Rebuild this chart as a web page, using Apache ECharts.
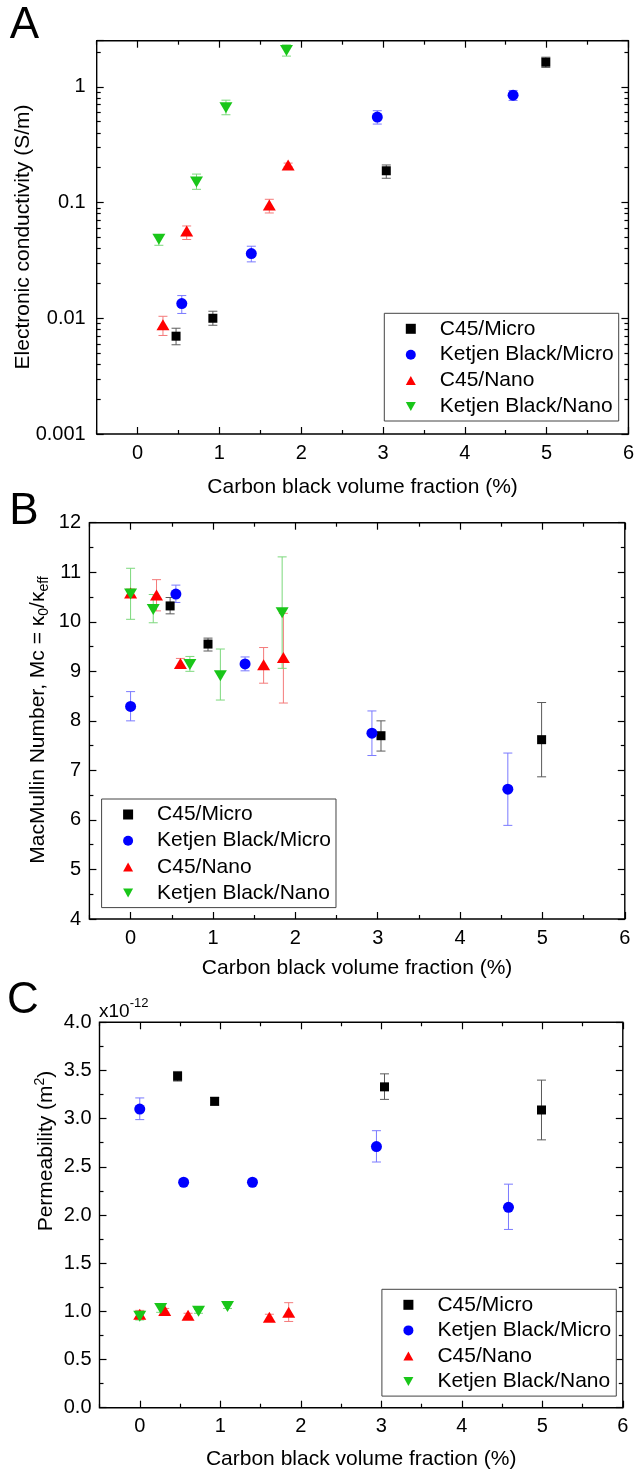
<!DOCTYPE html>
<html>
<head>
<meta charset="utf-8">
<script src="https://cdn.jsdelivr.net/npm/echarts@6/dist/echarts.min.js"></script>
<style>
  html, body { margin: 0; padding: 0; background: #fff; }
  #chart { width: 637px; height: 1473px; }
</style>
</head>
<body>
<div id="chart"></div>
<script>
const seriesNames = ["C45/Micro", "Ketjen Black/Micro", "C45/Nano", "Ketjen Black/Nano"];
const xTicks = [0, 1, 2, 3, 4, 5, 6];
const xMinorTicks = [-0.5, 0.5, 1.5, 2.5, 3.5, 4.5, 5.5];
const xTitle = "Carbon black volume fraction (%)";

// each point: [volume fraction %, value, error low, error high]
// A: electronic conductivity (S/m)
const condC45Micro = [[0.47, 0.0070, 0.0059, 0.0082], [0.92, 0.0100, 0.0087, 0.0115], [3.04, 0.188, 0.162, 0.211], [4.99, 1.63, 1.47, 1.80]];
const condKBMicro = [[0.54, 0.0134, 0.0110, 0.0157], [1.39, 0.0362, 0.0307, 0.0419], [2.93, 0.547, 0.476, 0.621], [4.59, 0.846, 0.762, 0.929]];
const condC45Nano = [[0.31, 0.0088, 0.0071, 0.0104], [0.60, 0.0568, 0.0479, 0.0627], [1.61, 0.0951, 0.0812, 0.1066], [1.84, 0.211, 0.203, 0.219]];
const condKBNano = [[0.26, 0.0481, 0.0427, 0.0520], [0.72, 0.150, 0.130, 0.176], [1.08, 0.659, 0.573, 0.766], [1.82, 2.06, 1.84, 2.30]];

// B: MacMullin number
const mcC45Micro = [[0.48, 10.32, 10.16, 10.49], [0.94, 9.55, 9.41, 9.67], [3.04, 7.70, 7.39, 8.00], [4.99, 7.62, 6.87, 8.37]];
const mcKBMicro = [[0, 8.29, 8.00, 8.59], [0.55, 10.56, 10.39, 10.74], [1.39, 9.15, 9.01, 9.29], [2.93, 7.75, 7.30, 8.20], [4.58, 6.62, 5.89, 7.35]];
const mcC45Nano = [[0, 10.58, 10.52, 10.66], [0.315, 10.54, 10.22, 10.85], [0.605, 9.16, 9.08, 9.26], [1.615, 9.13, 8.76, 9.48], [1.855, 9.28, 8.36, 10.17]];
const mcKBNano = [[0, 10.56, 10.05, 11.08], [0.275, 10.25, 9.98, 10.55], [0.72, 9.14, 9.00, 9.30], [1.09, 8.91, 8.42, 9.45], [1.84, 10.18, 9.06, 11.31]];

// C: permeability (x1e-12 m2)
const permC45Micro = [[0.47, 3.44, 3.39, 3.49], [0.93, 3.18, 3.14, 3.22], [3.04, 3.33, 3.20, 3.465], [4.99, 3.09, 2.78, 3.40]];
const permKBMicro = [[0, 3.10, 2.99, 3.215], [0.545, 2.34, 2.32, 2.36], [1.40, 2.34, 2.32, 2.36], [2.94, 2.71, 2.55, 2.875], [4.58, 2.08, 1.85, 2.32]];
const permC45Nano = [[0, 0.97, 0.93, 1.01], [0.31, 1.01, 0.99, 1.03], [0.60, 0.96, 0.94, 0.98], [1.61, 0.94, 0.90, 0.97], [1.85, 0.99, 0.895, 1.09]];
const permKBNano = [[0, 0.95, 0.91, 0.98], [0.26, 1.03, 0.99, 1.07], [0.73, 1.00, 0.98, 1.02], [1.09, 1.05, 1.03, 1.07]];

const FONT = '"Liberation Sans", Arial, sans-serif';
const markers = [
  { symbol: "rect", symbolSize: 9, color: "#000000", err: "#5a5a5a", rotate: 0, icon: "rect" },
  { symbol: "circle", symbolSize: 11, color: "#0000ff", err: "#7a7aff", rotate: 0, icon: "circle" },
  { symbol: "triangle", symbolSize: [13, 11], color: "#ff0000", err: "#f47a7a", rotate: 0, icon: "path://M5,0L10,9L0,9Z" },
  { symbol: "triangle", symbolSize: [13, 11], color: "#19c619", err: "#7cd87c", rotate: 180, icon: "path://M0,0L10,0L5,9Z" },
];

const chart = echarts.init(document.getElementById("chart"));

const tickLine = { color: "#000", width: 1.2 };
const labelStyle = { fontSize: 20, color: "#000", fontFamily: FONT };

function xAxisSet(g, nameGap) {
  const base = {
    gridIndex: g, type: "value", min: -0.5, max: 6,
    splitLine: { show: false }, axisLine: { show: false, onZero: false },
  };
  return [
    {
      ...base, position: "bottom",
      axisTick: { inside: true, length: 7, customValues: xTicks, lineStyle: tickLine },
      axisLabel: { ...labelStyle, customValues: xTicks, margin: 9 },
      name: xTitle, nameLocation: "middle", nameGap,
      nameTextStyle: { fontSize: 21, color: "#000", fontFamily: FONT },
    },
    { ...base, position: "bottom", axisTick: { inside: true, length: 4, customValues: xMinorTicks, lineStyle: tickLine }, axisLabel: { show: false } },
    { ...base, position: "top", axisTick: { inside: true, length: 7, customValues: xTicks, lineStyle: tickLine }, axisLabel: { show: false } },
    { ...base, position: "top", axisTick: { inside: true, length: 4, customValues: xMinorTicks, lineStyle: tickLine }, axisLabel: { show: false } },
  ];
}

function linearY(g, min, max, interval, margin, formatter) {
  const base = {
    gridIndex: g, type: "value", min, max, interval,
    splitLine: { show: false }, axisLine: { show: false, onZero: false },
    axisTick: { inside: true, length: 7, lineStyle: tickLine },
    minorTick: { show: true, splitNumber: 2, length: 4, lineStyle: tickLine },
  };
  return [
    { ...base, position: "left", axisLabel: { ...labelStyle, margin, formatter } },
    { ...base, position: "right", axisLabel: { show: false } },
  ];
}

// log axis for panel A, minor ticks drawn on a helper axis in log10 space
const logMin = 0.001, logMax = 2.5;
const minorLogTicks = [];
for (let d = -3; d <= 0; d++) {
  for (let k = 2; k <= 9; k++) {
    const v = d + Math.log10(k);
    if (v <= Math.log10(logMax)) minorLogTicks.push(v);
  }
}
function logY() {
  const base = {
    gridIndex: 0, type: "log", logBase: 10, min: logMin, max: logMax,
    splitLine: { show: false }, axisLine: { show: false, onZero: false },
    axisTick: { inside: true, length: 7, lineStyle: tickLine },
  };
  const minor = {
    gridIndex: 0, type: "value", min: Math.log10(logMin), max: Math.log10(logMax),
    splitLine: { show: false }, axisLine: { show: false, onZero: false },
    axisTick: { inside: true, length: 4, customValues: minorLogTicks, lineStyle: tickLine },
    axisLabel: { show: false },
  };
  return [
    {
      ...base, position: "left",
      axisLabel: {
        ...labelStyle, margin: 11,
        formatter: (v) => {
          const e = Math.log10(v);
          return Math.abs(e - Math.round(e)) < 1e-6 ? String(+v.toPrecision(1)) : "";
        },
      },
    },
    { ...base, position: "right", axisLabel: { show: false } },
    { ...minor, position: "left" },
    { ...minor, position: "right" },
  ];
}

function errorBars(data, color, xi, yi) {
  return {
    type: "custom", xAxisIndex: xi, yAxisIndex: yi, data, z: 2, silent: true,
    encode: { x: 0, y: [1, 2, 3] },
    renderItem: (params, api) => {
      const top = api.coord([api.value(0), api.value(3)]);
      const bot = api.coord([api.value(0), api.value(2)]);
      const w = 4.5;
      const style = { stroke: color, lineWidth: 1 };
      return {
        type: "group",
        children: [
          { type: "line", shape: { x1: top[0], y1: top[1], x2: bot[0], y2: bot[1] }, style },
          { type: "line", shape: { x1: top[0] - w, y1: top[1], x2: top[0] + w, y2: top[1] }, style },
          { type: "line", shape: { x1: bot[0] - w, y1: bot[1], x2: bot[0] + w, y2: bot[1] }, style },
        ],
      };
    },
  };
}

function panelSeries(groups, xi, yi) {
  const out = [];
  groups.forEach((data, i) => {
    const m = markers[i];
    out.push(errorBars(data, m.err, xi, yi));
    out.push({
      name: seriesNames[i], type: "scatter", xAxisIndex: xi, yAxisIndex: yi, data,
      encode: { x: 0, y: 1 }, symbol: m.symbol, symbolSize: m.symbolSize, symbolRotate: m.rotate,
      itemStyle: { color: m.color, opacity: 1 }, z: 3 + i,
    });
  });
  return out;
}

function legendAt(left, top, gap) {
  return {
    data: seriesNames.map((name, i) => ({ name, icon: markers[i].icon, itemStyle: { color: markers[i].color } })),
    orient: "vertical", left, top, selectedMode: false,
    padding: [5, 5, 4, 21.5], itemWidth: 10, itemHeight: 10, itemGap: gap,
    backgroundColor: "#fff", borderColor: "#444", borderWidth: 1,
    textStyle: { fontSize: 21, fontFamily: FONT, color: "#000", lineHeight: 20, padding: [0, 0, 0, 19] },
  };
}

function textEl(x, y, text, size, extra) {
  return {
    type: "text", x, y, silent: true, ...extra,
    style: { text, fontSize: size, fontFamily: FONT, fill: "#000", align: "center", verticalAlign: "middle" },
  };
}

chart.setOption({
  animation: false,
  backgroundColor: "#fff",
  grid: [
    { left: 96.7, top: 40.7, width: 535.3, height: 393.3, show: true, borderColor: "#000", borderWidth: 1.4, backgroundColor: "transparent" },
    { left: 89.4, top: 522.7, width: 535.4, height: 396.3, show: true, borderColor: "#000", borderWidth: 1.4, backgroundColor: "transparent" },
    { left: 99.5, top: 1022.3, width: 523.3, height: 385.4, show: true, borderColor: "#000", borderWidth: 1.4, backgroundColor: "transparent" },
  ],
  xAxis: [...xAxisSet(0, 42.5), ...xAxisSet(1, 38.5), ...xAxisSet(2, 41)],
  yAxis: [
    ...logY(),
    ...linearY(1, 4, 12, 1, 8.4),
    ...linearY(2, 0, 4, 0.5, 8, (v) => v.toFixed(1)),
  ],
  legend: [legendAt(384.3, 313.3, 4.9), legendAt(101.6, 799, 5.2), legendAt(381.9, 1289.3, 4.6)],
  series: [
    ...panelSeries([condC45Micro, condKBMicro, condC45Nano, condKBNano], 0, 0),
    ...panelSeries([mcC45Micro, mcKBMicro, mcC45Nano, mcKBNano], 4, 4),
    ...panelSeries([permC45Micro, permKBMicro, permC45Nano, permKBNano], 8, 6),
  ],
  graphic: [
    textEl(24.5, 26, "A", 44),
    textEl(24, 512, "B", 44),
    textEl(23, 1001, "C", 44),
    textEl(23, 237, "Electronic conductivity (S/m)", 21, { rotation: Math.PI / 2 }),
    {
      type: "text", x: 38, y: 720, rotation: Math.PI / 2, silent: true,
      style: {
        text: "{t|MacMullin Number, Mc = κ}{s|0}{t|/κ}{s|eff}",
        align: "center", verticalAlign: "middle", fill: "#000",
        rich: {
          t: { fontSize: 21, fontFamily: FONT, lineHeight: 26, verticalAlign: "middle" },
          s: { fontSize: 14, fontFamily: FONT, lineHeight: 14, verticalAlign: "bottom" },
        },
      },
    },
    {
      type: "text", x: 46, y: 1151, rotation: Math.PI / 2, silent: true,
      style: {
        text: "{t|Permeability (m}{p|2}{t|)}",
        align: "center", verticalAlign: "middle", fill: "#000",
        rich: {
          t: { fontSize: 21, fontFamily: FONT, lineHeight: 26, verticalAlign: "middle" },
          p: { fontSize: 14, fontFamily: FONT, lineHeight: 14, verticalAlign: "top" },
        },
      },
    },
    {
      type: "text", x: 99, y: 1021, silent: true,
      style: {
        text: "{a|x10}{b|-12}",
        align: "left", verticalAlign: "bottom", fill: "#000",
        rich: {
          a: { fontSize: 19, fontFamily: FONT, lineHeight: 24, verticalAlign: "bottom" },
          b: { fontSize: 13, fontFamily: FONT, lineHeight: 13, verticalAlign: "top" },
        },
      },
    },
  ],
});
</script>
</body>
</html>
